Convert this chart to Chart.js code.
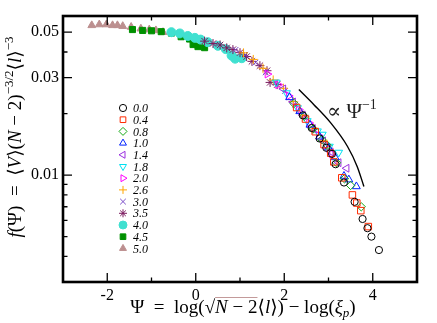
<!DOCTYPE html>
<html>
<head>
<meta charset="utf-8">
<script src="https://cdn.jsdelivr.net/npm/chart.js@4.4.1/dist/chart.umd.min.js"></script>
<style>
  html, body { margin: 0; padding: 0; background: #fff; }
  #wrap { width: 437px; height: 323px; }
</style>
</head>
<body>
<div id="wrap"><canvas id="chart" width="437" height="323"></canvas></div>
<script>
// series labels (legend)
const seriesLabels = ['0.0', '0.4', '0.8', '1.0', '1.4', '1.8', '2.0', '2.6', '3.0', '3.5', '4.0', '4.5', '5.0'];

// values
const x00 = [2.42, 2.62, 2.8, 2.95, 3.08, 3.16, 3.35, 3.59, 3.77, 3.88, 3.97, 4.14];
const y00 = [0.0196, 0.0170, 0.0151, 0.0136, 0.0127, 0.0113, 0.0092, 0.0074, 0.0061, 0.0055, 0.0050, 0.0043];
const x04 = [2.28, 2.48, 2.7, 2.9, 3.05, 3.12, 3.3, 3.54, 3.64, 3.73, 3.9];
const y04 = [0.0214, 0.0188, 0.0163, 0.0141, 0.0128, 0.0116, 0.0097, 0.0080, 0.0073, 0.0067, 0.0056];
const x08 = [2.22, 2.45, 2.65, 2.85, 2.97, 3.18, 3.36, 3.5, 3.74];
const y08 = [0.0224, 0.0194, 0.0168, 0.0149, 0.0140, 0.0115, 0.0096, 0.0089, 0.0070];
const x10 = [2.12, 2.35, 2.58, 2.8, 3.0, 3.15, 3.35, 3.46, 3.63];
const y10 = [0.0240, 0.0205, 0.0176, 0.0154, 0.0136, 0.0122, 0.0099, 0.0095, 0.0088];
const x14 = [1.98, 2.2, 2.42, 2.65, 2.88, 3.05, 3.23, 3.41];
const y14 = [0.0264, 0.0228, 0.0197, 0.0169, 0.0147, 0.0130, 0.0115, 0.0108];
const x18 = [1.82, 2.05, 2.3, 2.52, 2.75, 2.86, 3.02, 3.23];
const y18 = [0.0284, 0.0252, 0.0213, 0.0184, 0.0164, 0.0158, 0.0138, 0.0129];
const x20 = [1.62, 1.86, 2.1, 2.33, 2.56, 2.78, 2.95, 3.08];
const y20 = [0.0312, 0.0277, 0.0244, 0.0209, 0.0180, 0.0156, 0.0140, 0.0127];
const x26 = [1.08, 1.3, 1.52, 1.75, 1.98, 2.2, 2.42, 2.65, 2.88];
const y26 = [0.0396, 0.0368, 0.0333, 0.0292, 0.0266, 0.0229, 0.0197, 0.0170, 0.0148];
const x30 = [0.9, 1.12, 1.35, 1.58, 1.8, 2.02, 2.25, 2.48, 2.7];
const y30 = [0.0410, 0.0388, 0.0355, 0.0318, 0.0285, 0.0258, 0.0221, 0.0191, 0.0165];
const x35 = [0.2, 0.39, 0.55, 0.7, 0.84, 1.0, 1.15, 1.27, 1.45, 1.61, 1.68, 1.84];
const y35 = [0.0452, 0.0440, 0.0433, 0.0419, 0.0411, 0.0397, 0.0380, 0.0360, 0.0343, 0.0324, 0.0284, 0.0277];
const x40 = [-0.55, -0.36, -0.18, -0.02, 0.11, 0.27, 0.5, 0.68, 0.81, 0.89, 1.04];
const y40 = [0.0500, 0.0493, 0.0479, 0.0469, 0.0460, 0.0447, 0.0429, 0.0413, 0.0384, 0.0371, 0.0373];
const x45 = [-1.43, -1.2, -1.0, -0.78, -0.55, -0.33, -0.14, -0.06, 0.05, 0.2];
const y45 = [0.0515, 0.0510, 0.0508, 0.0503, 0.0495, 0.0475, 0.0463, 0.0435, 0.0425, 0.0420];
const x50 = [-2.35, -2.18, -2.02, -1.88, -1.77, -1.65, -1.46, -1.24, -1.05, -0.9, -0.74];
const y50 = [0.0540, 0.0545, 0.0545, 0.0540, 0.0540, 0.0535, 0.0530, 0.0520, 0.0515, 0.0510, 0.0500];

// guide curve "∝ Ψ^-1"
const lineX = [2.33, 2.67, 3.05, 3.43, 3.65, 3.80];
const lineY = [0.0262, 0.0221, 0.0180, 0.0138, 0.0110, 0.0088];

// ticks
const xTicks = [-3, -2, -1, 0, 1, 2, 3, 4, 5];
const xTickLabels = ['', '-2', '', '0', '', '2', '', '4', ''];
const yTicks = [0.003, 0.004, 0.005, 0.006, 0.007, 0.008, 0.009, 0.01, 0.02, 0.03, 0.04, 0.05, 0.06];
const yTickLabels = ['', '', '', '', '', '', '', '0.01', '', '0.03', '', '0.05', ''];

const seriesX = [x00, x04, x08, x10, x14, x18, x20, x26, x30, x35, x40, x45, x50];
const seriesY = [y00, y04, y08, y10, y14, y18, y20, y26, y30, y35, y40, y45, y50];

const SERIF = '"Liberation Serif", "DejaVu Serif", serif';

// marker styles (xmgrace-like colours)
const markers = [
    { color: '#000000', shape: 'circle',   rot: 0,   r: 3.6, filled: false },
    { color: '#ff2a00', shape: 'rect',     rot: 0,   r: 4.6, filled: false },
    { color: '#14a814', shape: 'rectRot',  rot: 0,   r: 4.2, filled: false },
    { color: '#0022ff', shape: 'triangle', rot: 0,   r: 4.5, filled: false },
    { color: '#9b30e0', shape: 'triangle', rot: -90, r: 4.5, filled: false },
    { color: '#00e0f0', shape: 'triangle', rot: 180, r: 4.5, filled: false },
    { color: '#ff00ff', shape: 'triangle', rot: 90,  r: 4.5, filled: false },
    { color: '#ffa500', shape: 'cross',    rot: 0,   r: 4.5, filled: false },
    { color: '#7a4cc8', shape: 'crossRot', rot: 0,   r: 4.0, filled: false },
    { color: '#7b1a5e', shape: 'star',     rot: 0,   r: 4.5, filled: false },
    { color: '#40e0d0', shape: 'circle',   rot: 0,   r: 4.5, filled: true },
    { color: '#009000', shape: 'rect',     rot: 0,   r: 4.3, filled: true },
    { color: '#bc8f8f', shape: 'triangle', rot: 0,   r: 4.5, filled: true }
];

const datasets = seriesLabels.map((lab, i) => {
    const m = markers[i];
    return {
        label: lab,
        data: seriesX[i].map((x, j) => ({ x: x, y: seriesY[i][j] })),
        showLine: false,
        pointStyle: m.shape,
        pointRotation: m.rot,
        pointRadius: m.r,
        borderColor: m.color,
        backgroundColor: m.filled ? m.color : 'rgba(0,0,0,0)',
        borderWidth: 1
    };
});

datasets.push({
    label: 'guide',
    data: lineX.map((x, j) => ({ x: x, y: lineY[j] })),
    showLine: true,
    borderColor: '#000',
    borderWidth: 1.4,
    pointRadius: 0,
    cubicInterpolationMode: 'monotone',
    fill: false
});

// draw rich text (italics, super/subscripts) left to right
function richText(ctx, parts, x, y, size, align) {
    const font = p => (p.i ? 'italic ' : '') + (p.s ? Math.round(size * 0.68) : size) + 'px ' + SERIF;
    let w = 0;
    parts.forEach(p => { ctx.font = font(p); p.w = ctx.measureText(p.t).width; w += p.w; });
    let cx = align === 'center' ? x - w / 2 : x;
    parts.forEach(p => {
        ctx.font = font(p);
        const dy = p.s === 'sup' ? -size * 0.42 : (p.s === 'sub' ? size * 0.22 : 0);
        ctx.fillText(p.t, cx, y + dy);
        p.x0 = cx; p.x1 = cx + p.w;
        cx += p.w;
    });
    return parts;
}

// frame, inward ticks on every side, custom legend, titles
const decor = {
    id: 'decor',
    afterDraw(chart) {
        const { ctx, chartArea: a, scales } = chart;
        const xs = scales.x, ys = scales.y;
        ctx.save();
        ctx.strokeStyle = '#000';
        ctx.lineWidth = 1.3;
        ctx.beginPath();
        xTicks.forEach((v, k) => {
            const px = xs.getPixelForValue(v);
            const len = xTickLabels[k] ? 9 : 4.5;
            ctx.moveTo(px, a.bottom); ctx.lineTo(px, a.bottom - len);
            ctx.moveTo(px, a.top); ctx.lineTo(px, a.top + len);
        });
        yTicks.forEach((v, k) => {
            const py = ys.getPixelForValue(v);
            const len = yTickLabels[k] ? 9 : 4.5;
            ctx.moveTo(a.left, py); ctx.lineTo(a.left + len, py);
            ctx.moveTo(a.right, py); ctx.lineTo(a.right - len, py);
        });
        ctx.stroke();
        ctx.lineWidth = 2.6;
        ctx.strokeRect(a.left, a.top, a.right - a.left, a.bottom - a.top);

        // legend
        const lx = a.left + 60, ly0 = a.top + 92, step = 11.7;
        ctx.textBaseline = 'middle';
        ctx.textAlign = 'left';
        chart.data.datasets.slice(0, seriesLabels.length).forEach((ds, i) => {
            const y = ly0 + i * step;
            ctx.strokeStyle = ds.borderColor;
            ctx.fillStyle = ds.backgroundColor;
            ctx.lineWidth = 1;
            Chart.helpers.drawPoint(ctx, {
                pointStyle: ds.pointStyle,
                rotation: ds.pointRotation,
                radius: Math.min(ds.pointRadius, 4),
                borderWidth: 1
            }, lx, y);
            ctx.fillStyle = '#000';
            ctx.font = 'italic 12px ' + SERIF;
            ctx.fillText(ds.label, lx + 10, y + 1);
        });

        ctx.fillStyle = '#000';
        ctx.textBaseline = 'alphabetic';
        // x title
        const xp = richText(ctx, [
            { t: 'Ψ  =  log(√' }, { t: 'N', i: 1 }, { t: ' − 2' },
            { t: '⟨' }, { t: 'l', i: 1 }, { t: '⟩) − log(' },
            { t: 'ξ', i: 1 }, { t: 'p', i: 1, s: 'sub' }, { t: ')' }
        ], (a.left + a.right) / 2 + 3, 313, 19, 'center');
        ctx.lineWidth = 0.9;
        ctx.beginPath();
        ctx.moveTo(xp[1].x0, 297.5); ctx.lineTo(xp[2].x1, 297.5);
        ctx.stroke();

        // y title, rotated
        ctx.save();
        ctx.translate(21, 137);
        ctx.rotate(-Math.PI / 2);
        richText(ctx, [
            { t: 'f', i: 1 }, { t: '(Ψ)  =  ⟨' }, { t: 'V', i: 1 }, { t: '⟩(' },
            { t: 'N', i: 1 }, { t: ' − 2)' }, { t: '−3/2', s: 'sup' },
            { t: '⟨' }, { t: 'l', i: 1 }, { t: '⟩' }, { t: '−3', s: 'sup' }
        ], 0, 0, 19, 'center');
        ctx.restore();

        // annotation
        ctx.fillStyle = '#222';
        richText(ctx, [{ t: '∝ Ψ' }, { t: '−1', s: 'sup' }], 327, 118, 21, 'left');
        ctx.restore();
    }
};

new Chart(document.getElementById('chart'), {
    type: 'scatter',
    data: { datasets: datasets },
    options: {
        responsive: false,
        animation: false,
        devicePixelRatio: 1,
        events: [],
        layout: { padding: { top: 16, right: 20, left: 0, bottom: 0 } },
        plugins: { legend: { display: false }, tooltip: { enabled: false } },
        scales: {
            x: {
                type: 'linear',
                min: -3, max: 5,
                afterBuildTicks: s => { s.ticks = xTicks.map(v => ({ value: v })); },
                afterFit: s => { s.height = 41; },
                grid: { display: false, drawTicks: false },
                border: { display: false },
                ticks: {
                    padding: 4,
                    maxRotation: 0,
                    autoSkip: false,
                    color: '#000',
                    font: { family: SERIF, size: 16 },
                    callback: (v, k) => xTickLabels[k]
                }
            },
            y: {
                type: 'logarithmic',
                min: 0.003, max: 0.06,
                afterBuildTicks: s => { s.ticks = yTicks.map(v => ({ value: v })); },
                afterFit: s => { s.width = 63; },
                grid: { display: false, drawTicks: false },
                border: { display: false },
                ticks: {
                    padding: 4,
                    autoSkip: false,
                    color: '#000',
                    font: { family: SERIF, size: 16 },
                    callback: (v, k) => yTickLabels[k]
                }
            }
        }
    },
    plugins: [decor]
});
</script>
</body>
</html>
